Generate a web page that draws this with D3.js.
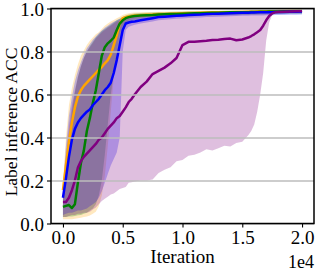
<!DOCTYPE html>
<html><head><meta charset="utf-8">
<script src="https://cdn.jsdelivr.net/npm/d3@7"></script>
<style>html,body{margin:0;padding:0;background:#fff;}svg{display:block;} text{font-family:"Liberation Serif","Times New Roman",serif;}</style>
</head><body>
<svg id="c" width="318" height="276"></svg>
<script>
const iters = [0,250,500,750,1000,1250,1500,1750,2000,2250,2500,2750,3000,3250,3500,3750,4000,4250,4500,4750,5000,5250,5500,5750,6000,6500,7000,7500,8000,8500,9000,9500,10000,10500,11000,11500,12000,12500,13000,13500,14000,14500,15000,15500,15750,16000,16250,16500,16750,17000,17250,17500,17750,18000,18500,19000,19500,20000];

const orangeMean = [0.155,0.27,0.38,0.47,0.54,0.59,0.62,0.64,0.655,0.67,0.685,0.70,0.715,0.728,0.745,0.76,0.785,0.83,0.875,0.93,0.955,0.96,0.963,0.965,0.967,
 0.969,0.971,0.972,0.974,0.975,0.976,0.977,0.978,0.979,0.979,0.98,0.981,0.982,0.982,0.983,0.983,0.984,0.984,0.985,
 0.985,0.985,0.986,0.986,0.986,0.987,0.987,0.987,0.987,0.988, 0.988,0.989,0.989,0.99];
const orangeLow = [0.02,0.02,0.02,0.02,0.022,0.025,0.027,0.03,0.033,0.037,0.045,0.055,0.08,0.13,0.22,0.36,0.52,0.68,0.8,0.88,0.92,0.935,0.945,0.95,0.953,
 0.957,0.96,0.962,0.964,0.966,0.967,0.968,0.969,0.97,0.97,0.971,0.972,0.973,0.973,0.974,0.974,0.975,0.975,0.976,
 0.976,0.976,0.977,0.977,0.977,0.978,0.978,0.978,0.978,0.979, 0.979,0.98,0.98,0.981];
const orangeHigh = [0.19,0.40,0.55,0.63,0.69,0.74,0.78,0.805,0.83,0.85,0.865,0.88,0.89,0.905,0.92,0.93,0.94,0.947,0.955,0.962,0.97,0.975,0.978,0.98,0.981,
 0.982,0.983,0.984,0.985,0.985,0.986,0.986,0.987,0.987,0.988,0.988,0.989,0.99,0.99,0.99,0.991,0.991,0.992,0.992,
 0.992,0.992,0.993,0.993,0.993,0.993,0.994,0.994,0.994,0.994, 0.995,0.995,0.995,0.996];

const greenMean = [0.077,0.082,0.086,0.072,0.09,0.19,0.28,0.34,0.43,0.49,0.56,0.62,0.70,0.78,0.82,0.838,0.85,0.865,0.90,0.93,0.945,0.955,0.96,0.963,0.965,
 0.967,0.969,0.97,0.972,0.973,0.974,0.975,0.976,0.977,0.978,0.978,0.979,0.98,0.98,0.981,0.982,0.982,0.983,0.983,
 0.984,0.984,0.984,0.985,0.985,0.985,0.986,0.986,0.986,0.986, 0.987,0.987,0.988,0.988];
const greenLow = [0.03,0.03,0.032,0.033,0.035,0.038,0.04,0.045,0.05,0.06,0.07,0.09,0.13,0.2,0.32,0.46,0.6,0.7,0.77,0.84,0.89,0.92,0.935,0.94,0.945,
 0.95,0.953,0.955,0.957,0.959,0.96,0.961,0.962,0.963,0.964,0.965,0.966,0.967,0.967,0.968,0.969,0.969,0.97,0.97,
 0.971,0.971,0.971,0.972,0.972,0.972,0.973,0.973,0.973,0.973, 0.974,0.974,0.975,0.975];
const greenHigh = [0.13,0.25,0.40,0.52,0.61,0.68,0.73,0.77,0.80,0.825,0.845,0.865,0.88,0.895,0.905,0.915,0.925,0.935,0.945,0.952,0.96,0.967,0.972,0.975,0.977,
 0.979,0.98,0.981,0.982,0.983,0.984,0.985,0.985,0.986,0.986,0.987,0.987,0.988,0.988,0.989,0.989,0.99,0.99,0.99,
 0.991,0.991,0.991,0.992,0.992,0.992,0.992,0.993,0.993,0.993, 0.993,0.994,0.994,0.994];

const blueMean = [0.12,0.21,0.31,0.39,0.44,0.47,0.49,0.505,0.52,0.53,0.55,0.565,0.58,0.60,0.62,0.635,0.655,0.70,0.76,0.83,0.90,0.93,0.935,0.938,0.94,
 0.945,0.95,0.955,0.96,0.962,0.964,0.966,0.968,0.97,0.971,0.972,0.974,0.975,0.976,0.977,0.978,0.979,0.98,0.98,
 0.981,0.981,0.982,0.982,0.982,0.983,0.983,0.983,0.984,0.984, 0.984,0.985,0.985,0.986];
const blueLow = [0.04,0.045,0.05,0.05,0.055,0.06,0.06,0.065,0.07,0.08,0.09,0.10,0.12,0.15,0.19,0.23,0.27,0.30,0.33,0.40,0.80,0.90,0.915,0.92,0.925,
 0.93,0.935,0.94,0.945,0.948,0.95,0.952,0.954,0.956,0.957,0.958,0.96,0.961,0.962,0.963,0.964,0.965,0.966,0.966,
 0.967,0.967,0.968,0.968,0.968,0.969,0.969,0.969,0.97,0.97, 0.97,0.971,0.971,0.972];
const blueHigh = [0.17,0.36,0.50,0.59,0.66,0.71,0.75,0.785,0.815,0.835,0.855,0.87,0.885,0.898,0.91,0.92,0.93,0.938,0.945,0.952,0.958,0.963,0.966,0.968,0.97,
 0.972,0.974,0.976,0.977,0.978,0.979,0.98,0.981,0.982,0.983,0.984,0.984,0.985,0.986,0.987,0.987,0.988,0.988,0.989,
 0.989,0.99,0.99,0.99,0.99,0.991,0.991,0.991,0.991,0.992, 0.992,0.993,0.993,0.993];

const purpleMean = [0.10,0.10,0.12,0.155,0.20,0.26,0.29,0.31,0.325,0.34,0.355,0.37,0.39,0.40,0.42,0.44,0.455,0.47,0.49,0.50,0.52,0.54,0.565,0.58,0.60,
 0.635,0.66,0.695,0.71,0.725,0.745,0.77,0.83,0.845,0.845,0.848,0.85,0.853,0.855,0.858,0.86,0.852,0.856,0.865,
 0.872,0.88,0.89,0.90,0.92,0.945,0.965,0.977,0.982,0.984, 0.985,0.986,0.987,0.988];
const purpleLow = [0.03,0.03,0.035,0.04,0.04,0.045,0.045,0.05,0.05,0.055,0.065,0.075,0.09,0.105,0.115,0.125,0.135,0.14,0.15,0.16,0.165,0.17,0.19,0.192,0.195,
 0.20,0.20,0.205,0.235,0.25,0.262,0.29,0.295,0.315,0.32,0.33,0.345,0.34,0.35,0.362,0.358,0.375,0.38,0.41,
 0.43,0.46,0.52,0.60,0.70,0.85,0.935,0.97,0.98,0.982, 0.983,0.984,0.985,0.986];
const purpleHigh = [0.15,0.30,0.45,0.55,0.62,0.68,0.73,0.77,0.80,0.82,0.84,0.86,0.875,0.89,0.90,0.91,0.92,0.93,0.94,0.945,0.95,0.955,0.96,0.962,0.965,
 0.967,0.969,0.97,0.972,0.973,0.974,0.975,0.976,0.977,0.978,0.979,0.98,0.98,0.981,0.982,0.982,0.983,0.984,0.984,
 0.985,0.985,0.986,0.987,0.988,0.989,0.99,0.991,0.991,0.992, 0.992,0.993,0.993,0.993];

const seriesColors = ["#FFA500", "#008000", "#0000FF", "#800080"];
const xTicks = [0, 5000, 10000, 15000, 20000];
const xTickLabels = ["0.0", "0.5", "1.0", "1.5", "2.0"];
const yTicks = [0, 0.2, 0.4, 0.6, 0.8, 1.0];
const yTickLabels = ["0.0", "0.2", "0.4", "0.6", "0.8", "1.0"];
const xLabel = "Iteration";
const yLabel = "Label inference ACC";
const xOffsetText = "1e4";

const series = [
  {mean: orangeMean, low: orangeLow, high: orangeHigh, color: seriesColors[0]},
  {mean: greenMean, low: greenLow, high: greenHigh, color: seriesColors[1]},
  {mean: blueMean, low: blueLow, high: blueHigh, color: seriesColors[2]},
  {mean: purpleMean, low: purpleLow, high: purpleHigh, color: seriesColors[3]}
];

const L = 51, R = 314, T = 8.5, B = 223.5;
const svg = d3.select("#c");
const x = d3.scaleLinear().domain([-1000, 21000]).range([L, R]);
const y = d3.scaleLinear().domain([0, 1]).range([B, T]);

svg.append("defs").append("clipPath").attr("id","clip")
  .append("rect").attr("x", L).attr("y", T).attr("width", R-L).attr("height", B-T);

const plot = svg.append("g").attr("clip-path", "url(#clip)");

const area = d3.area().x((d,i)=>x(iters[i])).y0(d=>y(d[0])).y1(d=>y(d[1]));
series.forEach(s => {
  const pts = s.low.map((v,i)=>[v, s.high[i]]);
  plot.append("path").attr("d", area(pts)).attr("fill", s.color).attr("fill-opacity", 0.25).attr("stroke","none");
});

const yAxisGrid = d3.axisLeft(y).tickValues(yTicks).tickSize(-(R-L)).tickFormat("");
svg.append("g").attr("transform", `translate(${L},0)`).call(yAxisGrid)
  .call(g=>g.select(".domain").remove())
  .call(g=>g.selectAll("line").attr("stroke","#bdbdbd").attr("stroke-width",1.3));

const line = d3.line().x((d,i)=>x(iters[i])).y(d=>y(d));
series.forEach(s => {
  plot.append("path").attr("d", line(s.mean)).attr("fill","none").attr("stroke", s.color)
    .attr("stroke-width", 2.5).attr("stroke-linejoin","round").attr("stroke-linecap","butt");
});

svg.append("rect").attr("x", L).attr("y", T).attr("width", R-L).attr("height", B-T)
  .attr("fill","none").attr("stroke","#000").attr("stroke-width",1.5);

const xAxis = d3.axisBottom(x).tickValues(xTicks).tickFormat((d,i)=>xTickLabels[i]).tickSize(4).tickPadding(3);
const gx = svg.append("g").attr("transform", `translate(0,${B})`).call(xAxis);
gx.select(".domain").remove();
gx.attr("font-family", null).attr("font-size", null);
gx.selectAll("line").attr("stroke","#000").attr("stroke-width",1.1);
gx.selectAll("text").style("font-size", "19px").attr("fill","#000");

const yAxis = d3.axisLeft(y).tickValues(yTicks).tickFormat((d,i)=>yTickLabels[i]).tickSize(4).tickPadding(3);
const gy = svg.append("g").attr("transform", `translate(${L},0)`).call(yAxis);
gy.select(".domain").remove();
gy.attr("font-family", null).attr("font-size", null);
gy.selectAll("line").attr("stroke","#000").attr("stroke-width",1.1);
gy.selectAll("text").style("font-size", "19px").attr("fill","#000").attr("dy", "0.38em");

svg.append("text").attr("x", (L+R)/2).attr("y", 263).attr("text-anchor","middle")
  .style("font-size", "19px").text(xLabel);
svg.append("text").attr("transform", `translate(17,${(T+B)/2 + 6}) rotate(-90)`).attr("text-anchor","middle")
  .style("font-size", "17.5px").text(yLabel);
svg.append("text").attr("x", R).attr("y", 268).attr("text-anchor","end")
  .style("font-size", "18px").text(xOffsetText);
</script>
</body></html>
